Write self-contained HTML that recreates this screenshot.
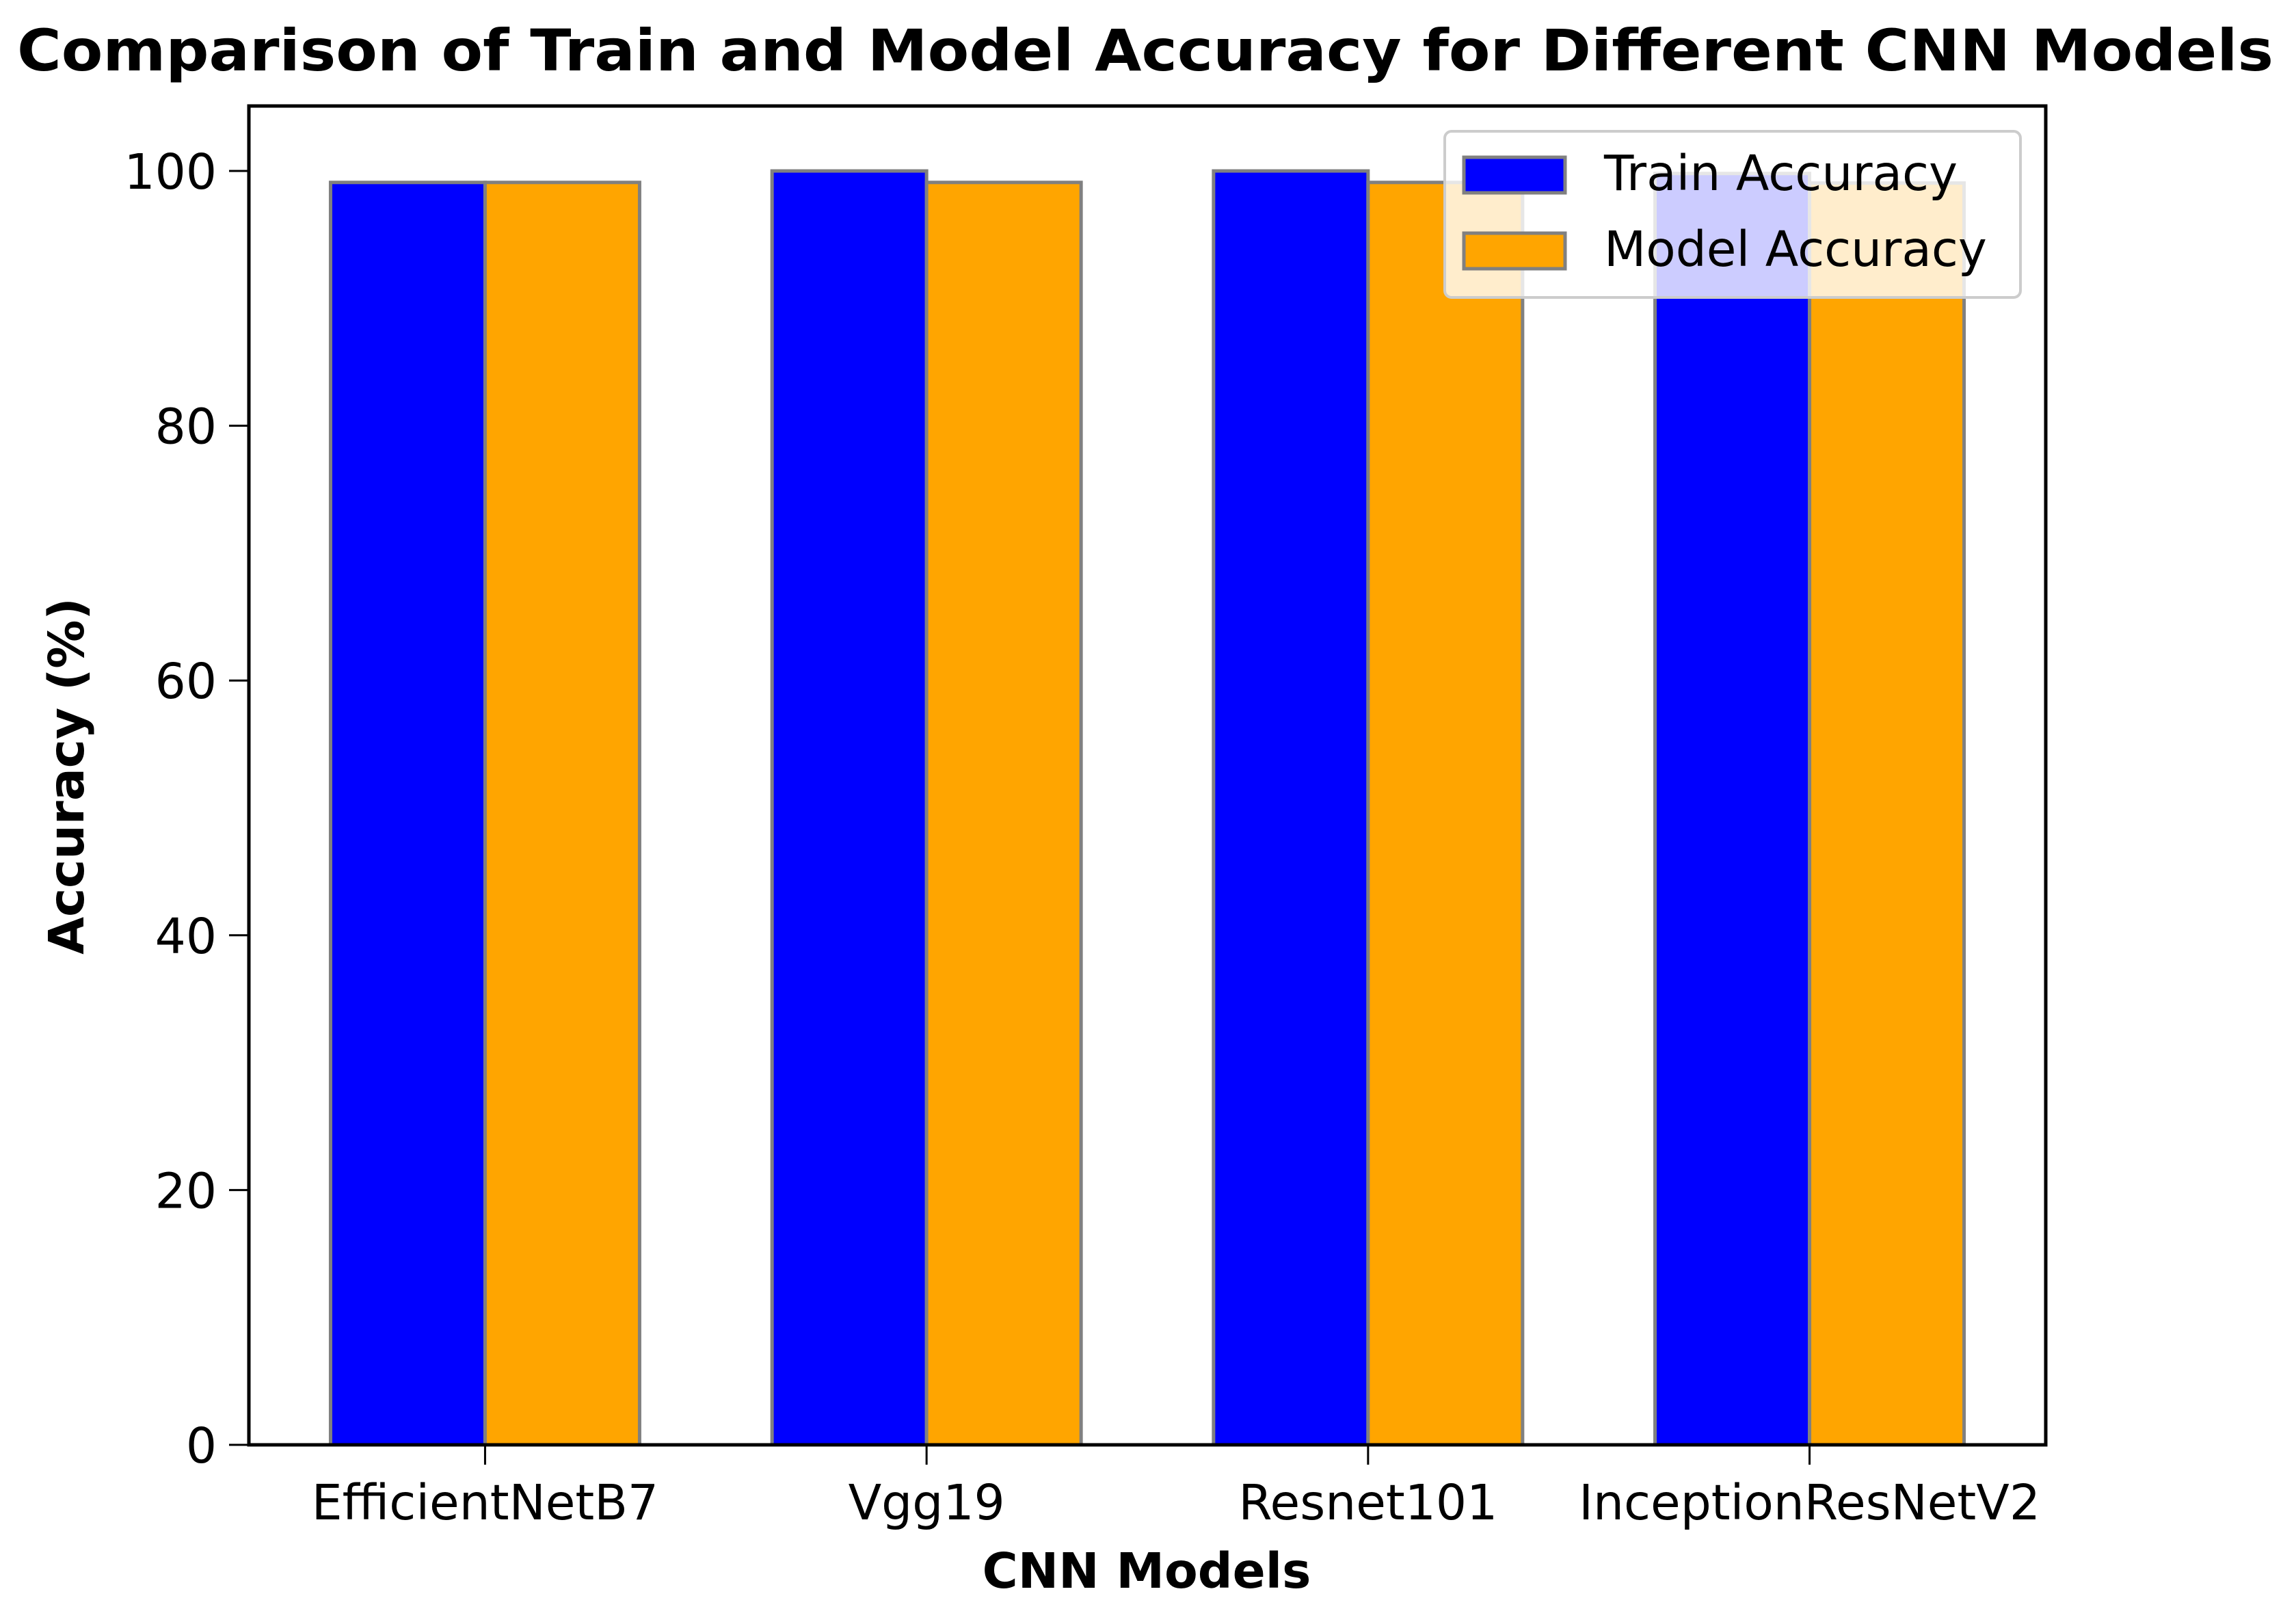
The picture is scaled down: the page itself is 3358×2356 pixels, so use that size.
<!DOCTYPE html>
<html><head><meta charset="utf-8"><style>
html,body{margin:0;padding:0;background:#fff;}
svg{display:block;font-family:"DejaVu Sans","Liberation Sans",sans-serif;}
</style></head><body>
<svg id="chart" width="3358" height="2356" viewBox="0 0 3358 2356" xmlns="http://www.w3.org/2000/svg">
<rect width="3358" height="2356" fill="#fff"/>
<text x="1675" y="103" text-anchor="middle" font-size="84" font-weight="bold" textLength="3300" lengthAdjust="spacingAndGlyphs">Comparison of Train and Model Accuracy for Different CNN Models</text>
<g id="bars"></g>
<rect x="364" y="155" width="2628" height="1958" fill="none" stroke="#000" stroke-width="5"/>
<g id="yticks"></g>
<g id="xticks"></g>
<text transform="translate(122,1135) rotate(-90)" text-anchor="middle" font-size="71" font-weight="bold">Accuracy (%)</text>
<text x="1677" y="2322" text-anchor="middle" font-size="71" font-weight="bold">CNN Models</text>
<g>
<rect x="2113" y="192" width="842" height="243" rx="10" fill="#fff" fill-opacity="0.8" stroke="#ccc" stroke-width="4"/>
<rect x="2141" y="230" width="148" height="52" fill="#0000ff" stroke="#808080" stroke-width="5"/>
<text x="2346" y="278" font-size="71">Train Accuracy</text>
<rect x="2141" y="341" width="148" height="52" fill="#ffa500" stroke="#808080" stroke-width="5"/>
<text x="2346" y="389" font-size="71">Model Accuracy</text>
</g>
</svg>
<script>
const categories = ["EfficientNetB7", "Vgg19", "Resnet101", "InceptionResNetV2"];
const trainAccuracy = [99.1, 100, 100, 99.8];
const modelAccuracy = [99.1, 99.1, 99.1, 99.05];
const yTickValues = [0, 20, 40, 60, 80, 100];

const NS = "http://www.w3.org/2000/svg";
const plotL = 364, plotR = 2992, plotT = 155, plotB = 2113;
const xMin = -0.535, xMax = 3.535, yMin = 0, yMax = 105.1;
const barW = 0.35;
function xs(v){ return plotL + (v - xMin) / (xMax - xMin) * (plotR - plotL); }
function ys(v){ return plotB - (v - yMin) / (yMax - yMin) * (plotB - plotT); }
function mk(tag, attrs, parent){
  const el = document.createElementNS(NS, tag);
  for (const k in attrs) el.setAttribute(k, attrs[k]);
  parent.appendChild(el);
  return el;
}
const barsG = document.getElementById("bars");
categories.forEach((c, i) => {
  const x1 = xs(i - barW), x2 = xs(i), x3 = xs(i + barW);
  const b1 = mk("rect", {x: x1, y: ys(trainAccuracy[i]), width: x2 - x1, height: ys(0) - ys(trainAccuracy[i]), fill: "#0000ff", stroke: "#808080", "stroke-width": 5}, barsG);
  
  
  const b2 = mk("rect", {x: x2, y: ys(modelAccuracy[i]), width: x3 - x2, height: ys(0) - ys(modelAccuracy[i]), fill: "#ffa500", stroke: "#808080", "stroke-width": 5}, barsG);
  
  
});
const yG = document.getElementById("yticks");
yTickValues.forEach(v => {
  const y = ys(v);
  const t = mk("line", {x1: plotL - 29, x2: plotL, y1: y, y2: y, stroke: "#000", "stroke-width": 3}, yG);
  
  
  const l = mk("text", {x: plotL - 47, y: y + 26, "text-anchor": "end", "font-size": 71}, yG);
  l.textContent = v;
  
  
});
const xG = document.getElementById("xticks");
categories.forEach((c, i) => {
  const x = xs(i);
  const t = mk("line", {x1: x, x2: x, y1: plotB, y2: plotB + 29, stroke: "#000", "stroke-width": 3}, xG);
  
  
  const l = mk("text", {x: x, y: 2222, "text-anchor": "middle", "font-size": 71}, xG);
  l.textContent = c;
  
  
});
</script>
</body></html>
